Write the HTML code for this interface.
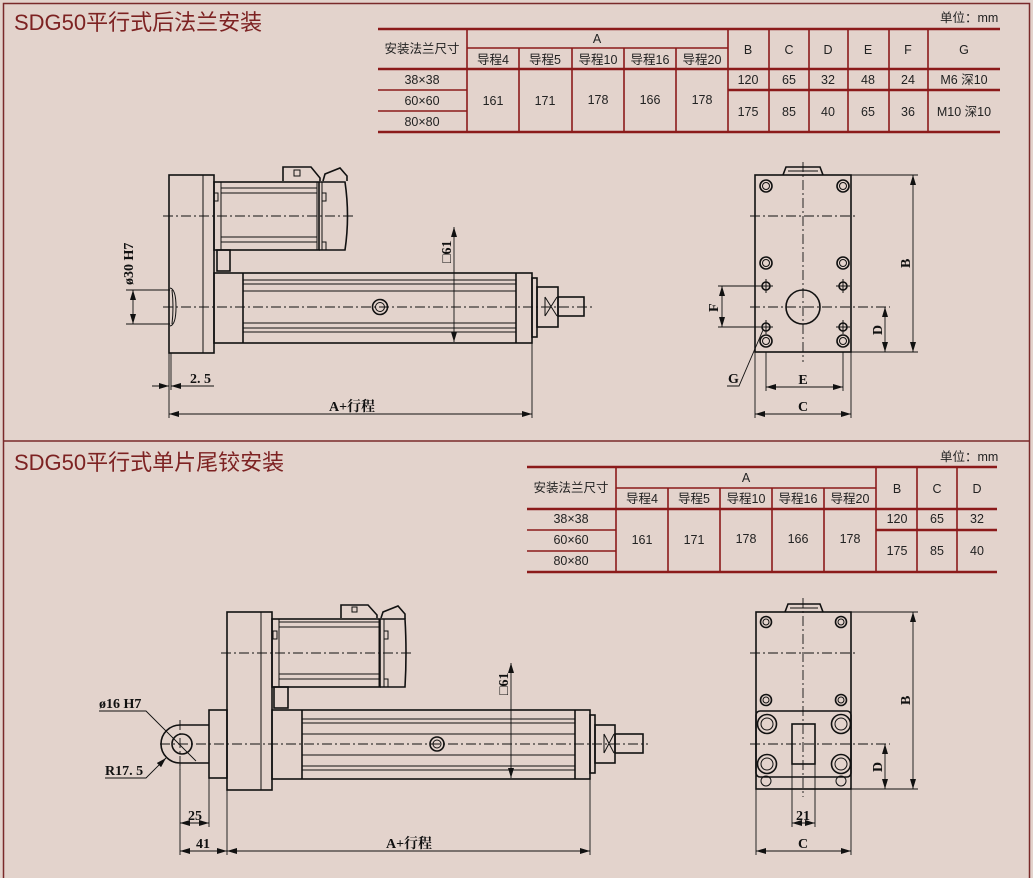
<!DOCTYPE html>
<html><head><meta charset="utf-8"><style>
html,body{margin:0;padding:0;background:#e3d3cc;}
svg{display:block;}
.t{font-family:"Liberation Sans","Noto Sans CJK SC",sans-serif;fill:#222;font-size:12.5px;}
.ttl{font-family:"Liberation Sans","Noto Sans CJK SC",sans-serif;fill:#7d2222;font-size:22px;}
.d{font-family:"Liberation Serif","Noto Serif CJK SC",serif;font-weight:bold;fill:#111;font-size:14px;}
.k{stroke:#111;fill:none;stroke-width:1.6;}
.th{stroke:#111;fill:none;stroke-width:1;}
.c{stroke:#111;fill:none;stroke-width:0.9;stroke-dasharray:10 3 2 3;}
.dm{stroke:#111;fill:none;stroke-width:0.9;}
.r{stroke:#8b1a1a;stroke-width:2.5;}
.r1{stroke:#8b1a1a;stroke-width:1.6;}
</style></head><body>
<svg width="1033" height="878" viewBox="0 0 1033 878" xmlns="http://www.w3.org/2000/svg">
<defs>
<marker id="a" viewBox="0 0 10 6" refX="10" refY="3" markerWidth="10" markerHeight="6" orient="auto-start-reverse" markerUnits="userSpaceOnUse"><path d="M0,0 L10,3 L0,6 z" fill="#111"/></marker>
</defs>
<rect x="3.5" y="3.5" width="1026" height="880" fill="none" stroke="#7a2a2a" stroke-width="1.5"/>
<line x1="3" y1="441" x2="1030" y2="441" stroke="#7a2a2a" stroke-width="1.5"/>
<text class="ttl" x="14" y="30">SDG50平行式后法兰安装</text>
<text class="ttl" x="14" y="470">SDG50平行式单片尾铰安装</text>

<!-- TOP TABLE -->
<text class="t" x="940" y="22">单位：mm</text>
<g>
<line class="r" x1="378" y1="29" x2="1000" y2="29"/>
<line class="r1" x1="467" y1="48" x2="728" y2="48"/>
<line class="r" x1="378" y1="69" x2="1000" y2="69"/>
<line class="r1" x1="378" y1="90" x2="467" y2="90"/>
<line class="r" x1="728" y1="90" x2="1000" y2="90"/>
<line class="r1" x1="378" y1="111" x2="467" y2="111"/>
<line class="r" x1="378" y1="132" x2="1000" y2="132"/>
<g class="r1"><line x1="467" y1="29" x2="467" y2="132"/><line x1="519" y1="48" x2="519" y2="132"/><line x1="572" y1="48" x2="572" y2="132"/><line x1="624" y1="48" x2="624" y2="132"/><line x1="676" y1="48" x2="676" y2="132"/><line x1="728" y1="29" x2="728" y2="132"/><line x1="769" y1="29" x2="769" y2="132"/><line x1="809" y1="29" x2="809" y2="132"/><line x1="848" y1="29" x2="848" y2="132"/><line x1="889" y1="29" x2="889" y2="132"/><line x1="928" y1="29" x2="928" y2="132"/></g>
<g class="t" text-anchor="middle">
<text x="422" y="53">安装法兰尺寸</text><text x="597" y="43">A</text>
<text x="493" y="64">导程4</text><text x="545" y="64">导程5</text><text x="598" y="64">导程10</text><text x="650" y="64">导程16</text><text x="702" y="64">导程20</text>
<text x="748" y="54">B</text><text x="789" y="54">C</text><text x="828" y="54">D</text><text x="868" y="54">E</text><text x="908" y="54">F</text><text x="964" y="54">G</text>
<text x="422" y="84">38×38</text><text x="422" y="105">60×60</text><text x="422" y="126">80×80</text>
<text x="493" y="105">161</text><text x="545" y="105">171</text><text x="598" y="104">178</text><text x="650" y="104">166</text><text x="702" y="104">178</text>
<text x="748" y="84">120</text><text x="789" y="84">65</text><text x="828" y="84">32</text><text x="868" y="84">48</text><text x="908" y="84">24</text><text x="964" y="84">M6 深10</text>
<text x="748" y="116">175</text><text x="789" y="116">85</text><text x="828" y="116">40</text><text x="868" y="116">65</text><text x="908" y="116">36</text><text x="964" y="116">M10 深10</text>
</g></g>

<!-- BOTTOM TABLE -->
<text class="t" x="940" y="461">单位：mm</text>
<g>
<line class="r" x1="527" y1="467" x2="997" y2="467"/>
<line class="r1" x1="616" y1="488" x2="876" y2="488"/>
<line class="r" x1="527" y1="509" x2="997" y2="509"/>
<line class="r1" x1="527" y1="530" x2="616" y2="530"/>
<line class="r" x1="876" y1="530" x2="997" y2="530"/>
<line class="r1" x1="527" y1="551" x2="616" y2="551"/>
<line class="r" x1="527" y1="572" x2="997" y2="572"/>
<g class="r1"><line x1="616" y1="467" x2="616" y2="572"/><line x1="668" y1="488" x2="668" y2="572"/><line x1="720" y1="488" x2="720" y2="572"/><line x1="772" y1="488" x2="772" y2="572"/><line x1="824" y1="488" x2="824" y2="572"/><line x1="876" y1="467" x2="876" y2="572"/><line x1="917" y1="467" x2="917" y2="572"/><line x1="957" y1="467" x2="957" y2="572"/></g>
<g class="t" text-anchor="middle">
<text x="571" y="492">安装法兰尺寸</text><text x="746" y="482">A</text>
<text x="642" y="503">导程4</text><text x="694" y="503">导程5</text><text x="746" y="503">导程10</text><text x="798" y="503">导程16</text><text x="850" y="503">导程20</text>
<text x="897" y="493">B</text><text x="937" y="493">C</text><text x="977" y="493">D</text>
<text x="571" y="523">38×38</text><text x="571" y="544">60×60</text><text x="571" y="565">80×80</text>
<text x="642" y="544">161</text><text x="694" y="544">171</text><text x="746" y="543">178</text><text x="798" y="543">166</text><text x="850" y="543">178</text>
<text x="897" y="523">120</text><text x="937" y="523">65</text><text x="977" y="523">32</text>
<text x="897" y="555">175</text><text x="937" y="555">85</text><text x="977" y="555">40</text>
</g></g>

<!-- TOP SIDE VIEW -->
<g>
<rect class="k" x="169" y="175" width="45" height="178"/>
<line class="th" x1="203" y1="175" x2="203" y2="353"/>
<rect class="k" x="214" y="182" width="105" height="68"/>
<path class="k" d="M319,182 L345,182 Q350,216 345,250 L319,250"/>
<line class="th" x1="221" y1="182" x2="221" y2="250"/>
<line class="th" x1="317" y1="182" x2="317" y2="250"/><line class="th" x1="322" y1="182" x2="322" y2="250"/>
<line class="th" x1="221" y1="188" x2="317" y2="188"/><line class="th" x1="221" y1="193" x2="317" y2="193"/>
<line class="th" x1="221" y1="237" x2="317" y2="237"/><line class="th" x1="221" y1="242" x2="317" y2="242"/>
<rect class="th" x="214" y="193" width="4" height="8"/><rect class="th" x="322" y="193" width="4" height="8"/><rect class="th" x="322" y="242" width="4" height="8"/>
<path class="k" d="M283,181 L283,167 L311,167 L320,178 L320,181"/><rect class="th" x="294" y="170" width="6" height="6"/>
<path class="k" d="M323,181 L325,174 L340,168 L347,176 L347,181"/>
<rect class="k" x="217" y="250" width="13" height="21"/>
<line class="c" x1="163" y1="216" x2="353" y2="216"/>
<rect class="k" x="214" y="273" width="318" height="70"/>
<line class="k" x1="243" y1="273" x2="243" y2="343"/><line class="k" x1="516" y1="273" x2="516" y2="343"/>
<g class="th"><line x1="243" y1="280" x2="516" y2="280"/><line x1="243" y1="284" x2="516" y2="284"/><line x1="243" y1="291" x2="516" y2="291"/><line x1="243" y1="323" x2="516" y2="323"/><line x1="243" y1="328" x2="516" y2="328"/><line x1="243" y1="332" x2="516" y2="332"/></g>
<rect class="k" x="532" y="278" width="5" height="59"/>
<rect class="k" x="537" y="287" width="21" height="40"/>
<path class="th" d="M545,297 L557,316 M557,297 L545,316 M545,297 V316"/>
<rect class="k" x="558" y="297" width="26" height="19"/>
<line class="c" x1="163" y1="307" x2="592" y2="307"/>
<circle class="k" cx="380" cy="307" r="7.5"/><circle class="th" cx="380" cy="307" r="4.5"/>
<path class="th" d="M170,288 Q176,289 176,307 Q176,325 170,326"/><path class="th" d="M172,290 Q174,307 172,324"/>
<line class="dm" x1="454" y1="227" x2="454" y2="342" marker-start="url(#a)" marker-end="url(#a)"/>
<text class="d" transform="translate(451,263) rotate(-90)">□61</text>
<line class="dm" x1="126" y1="290" x2="170" y2="290"/><line class="dm" x1="126" y1="324" x2="170" y2="324"/>
<line class="dm" x1="133" y1="290" x2="133" y2="324" marker-start="url(#a)" marker-end="url(#a)"/>
<text class="d" transform="translate(133,285) rotate(-90)">ø30 H7</text>
<line class="dm" x1="169" y1="353" x2="169" y2="418"/><line class="dm" x1="171" y1="353" x2="171" y2="390"/><line class="dm" x1="532" y1="343" x2="532" y2="418"/>
<line class="dm" x1="152" y1="386" x2="169" y2="386" marker-end="url(#a)"/><line class="dm" x1="171" y1="386" x2="214" y2="386" marker-start="url(#a)"/>
<text class="d" x="190" y="383">2. 5</text>
<line class="dm" x1="169" y1="414" x2="532" y2="414" marker-start="url(#a)" marker-end="url(#a)"/>
<text class="d" x="352" y="411" text-anchor="middle">A+行程</text>
</g>

<!-- TOP RIGHT VIEW -->
<g>
<rect class="k" x="755" y="175" width="96" height="177"/>
<path class="k" d="M783,175 L786,167 L820,167 L823,175"/><line class="th" x1="788" y1="171" x2="818" y2="171"/>
<line class="c" x1="803" y1="162" x2="803" y2="362"/>
<line class="c" x1="750" y1="216" x2="858" y2="216"/>
<line class="c" x1="750" y1="307" x2="890" y2="307"/>
<g class="k"><circle cx="766" cy="186" r="6"/><circle cx="843" cy="186" r="6"/><circle cx="766" cy="263" r="6"/><circle cx="843" cy="263" r="6"/><circle cx="766" cy="341" r="6"/><circle cx="843" cy="341" r="6"/></g>
<g class="th"><circle cx="766" cy="186" r="3.5"/><circle cx="843" cy="186" r="3.5"/><circle cx="766" cy="263" r="3.5"/><circle cx="843" cy="263" r="3.5"/><circle cx="766" cy="341" r="3.5"/><circle cx="843" cy="341" r="3.5"/></g>
<g class="k"><circle cx="766" cy="286" r="4"/><circle cx="843" cy="286" r="4"/><circle cx="766" cy="327" r="4"/><circle cx="843" cy="327" r="4"/></g>
<g class="th"><path d="M759,286h14M766,279v14M836,286h14M843,279v14M759,327h14M766,320v14M836,327h14M843,320v14"/></g>
<circle class="k" cx="803" cy="307" r="17"/>
<line class="dm" x1="851" y1="175" x2="918" y2="175"/><line class="dm" x1="851" y1="352" x2="918" y2="352"/>
<line class="dm" x1="913" y1="175" x2="913" y2="352" marker-start="url(#a)" marker-end="url(#a)"/>
<text class="d" transform="translate(910,268) rotate(-90)">B</text>
<line class="dm" x1="885" y1="307" x2="885" y2="352" marker-start="url(#a)" marker-end="url(#a)"/>
<text class="d" transform="translate(882,335) rotate(-90)">D</text>
<line class="dm" x1="718" y1="286" x2="766" y2="286"/><line class="dm" x1="718" y1="327" x2="766" y2="327"/>
<line class="dm" x1="722" y1="286" x2="722" y2="327" marker-start="url(#a)" marker-end="url(#a)"/>
<text class="d" transform="translate(718,312) rotate(-90)">F</text>
<line class="dm" x1="766" y1="352" x2="766" y2="391"/><line class="dm" x1="843" y1="352" x2="843" y2="391"/>
<line class="dm" x1="755" y1="352" x2="755" y2="418"/><line class="dm" x1="851" y1="352" x2="851" y2="418"/>
<line class="dm" x1="766" y1="387" x2="843" y2="387" marker-start="url(#a)" marker-end="url(#a)"/>
<text class="d" x="803" y="384" text-anchor="middle">E</text>
<line class="dm" x1="755" y1="414" x2="851" y2="414" marker-start="url(#a)" marker-end="url(#a)"/>
<text class="d" x="803" y="411" text-anchor="middle">C</text>
<path class="dm" d="M763,330 L739,386 L727,386"/>
<text class="d" x="728" y="383">G</text>
</g>

<!-- BOTTOM SIDE VIEW -->
<g>
<rect class="k" x="227" y="612" width="45" height="178"/>
<line class="th" x1="261" y1="612" x2="261" y2="790"/>
<rect class="k" x="272" y="619" width="108" height="68"/>
<path class="k" d="M380,619 L405,619 Q407,653 405,687 L380,687"/>
<line class="th" x1="279" y1="619" x2="279" y2="687"/>
<line class="th" x1="379" y1="619" x2="379" y2="687"/><line class="th" x1="384" y1="619" x2="384" y2="687"/>
<line class="th" x1="279" y1="622" x2="379" y2="622"/><line class="th" x1="279" y1="627" x2="379" y2="627"/>
<line class="th" x1="279" y1="674" x2="379" y2="674"/><line class="th" x1="279" y1="679" x2="379" y2="679"/>
<rect class="th" x="273" y="631" width="4" height="8"/><rect class="th" x="384" y="631" width="4" height="8"/><rect class="th" x="384" y="679" width="4" height="8"/>
<path class="k" d="M341,618 L341,605 L368,605 L377,615 L377,618"/><rect class="th" x="352" y="607" width="5" height="5"/>
<path class="k" d="M381,618 L383,612 L398,606 L405,614 L405,619"/>
<rect class="k" x="274" y="687" width="14" height="21"/>
<line class="c" x1="221" y1="653" x2="411" y2="653"/>
<rect class="k" x="272" y="710" width="318" height="69"/>
<line class="k" x1="302" y1="710" x2="302" y2="779"/><line class="k" x1="575" y1="710" x2="575" y2="779"/>
<g class="th"><line x1="302" y1="719" x2="575" y2="719"/><line x1="302" y1="723" x2="575" y2="723"/><line x1="302" y1="734" x2="575" y2="734"/><line x1="302" y1="755" x2="575" y2="755"/><line x1="302" y1="766" x2="575" y2="766"/><line x1="302" y1="770" x2="575" y2="770"/></g>
<rect class="k" x="590" y="715" width="5" height="58"/>
<rect class="k" x="595" y="725" width="20" height="38"/>
<path class="th" d="M604,734 L614,753 M614,734 L604,753 M604,734 V753"/>
<rect class="k" x="615" y="734" width="28" height="19"/>
<rect class="k" x="209" y="710" width="18" height="68"/>
<path class="k" d="M209,725 L180,725 A19,19 0 0 0 180,763 L209,763"/>
<circle class="k" cx="182" cy="744" r="10"/>
<line class="c" x1="160" y1="744" x2="648" y2="744"/>
<line class="c" x1="180" y1="720" x2="180" y2="770"/>
<circle class="k" cx="437" cy="744" r="7"/><circle class="th" cx="437" cy="744" r="4"/>
<line class="dm" x1="511" y1="663" x2="511" y2="778" marker-start="url(#a)" marker-end="url(#a)"/>
<text class="d" transform="translate(508,695) rotate(-90)">□61</text>
<text class="d" x="99" y="708">ø16 H7</text>
<path class="dm" d="M99,711 L146,711 L196,761"/>
<text class="d" x="105" y="775">R17. 5</text>
<path class="dm" d="M105,778 L146,778 L166,758" marker-end="url(#a)"/>
<line class="dm" x1="180" y1="764" x2="180" y2="855"/><line class="dm" x1="209" y1="778" x2="209" y2="827"/>
<line class="dm" x1="227" y1="790" x2="227" y2="855"/><line class="dm" x1="590" y1="779" x2="590" y2="855"/>
<line class="dm" x1="180" y1="823" x2="209" y2="823" marker-start="url(#a)" marker-end="url(#a)"/>
<text class="d" x="195" y="820" text-anchor="middle">25</text>
<line class="dm" x1="180" y1="851" x2="227" y2="851" marker-start="url(#a)" marker-end="url(#a)"/>
<text class="d" x="203" y="848" text-anchor="middle">41</text>
<line class="dm" x1="227" y1="851" x2="590" y2="851" marker-start="url(#a)" marker-end="url(#a)"/>
<text class="d" x="409" y="848" text-anchor="middle">A+行程</text>
</g>

<!-- BOTTOM RIGHT VIEW -->
<g>
<rect class="k" x="756" y="612" width="95" height="177"/>
<path class="k" d="M785,612 L788,604 L820,604 L823,612"/><line class="th" x1="790" y1="608" x2="818" y2="608"/>
<line class="c" x1="803" y1="598" x2="803" y2="797"/>
<line class="c" x1="750" y1="653" x2="858" y2="653"/>
<line class="c" x1="750" y1="744" x2="890" y2="744"/>
<g class="k"><circle cx="766" cy="622" r="5.5"/><circle cx="841" cy="622" r="5.5"/><circle cx="766" cy="700" r="5.5"/><circle cx="841" cy="700" r="5.5"/></g>
<g class="th"><circle cx="766" cy="622" r="3"/><circle cx="841" cy="622" r="3"/><circle cx="766" cy="700" r="3"/><circle cx="841" cy="700" r="3"/><circle cx="766" cy="781" r="5"/><circle cx="841" cy="781" r="5"/></g>
<rect class="k" x="756" y="711" width="95" height="66" rx="4"/>
<g class="k"><circle cx="767" cy="724" r="9.5"/><circle cx="841" cy="724" r="9.5"/><circle cx="767" cy="764" r="9.5"/><circle cx="841" cy="764" r="9.5"/></g>
<g class="th"><circle cx="767" cy="724" r="6"/><circle cx="841" cy="724" r="6"/><circle cx="767" cy="764" r="6"/><circle cx="841" cy="764" r="6"/></g>
<rect class="k" x="792" y="724" width="23" height="40"/>
<line class="dm" x1="851" y1="612" x2="918" y2="612"/><line class="dm" x1="851" y1="789" x2="918" y2="789"/>
<line class="dm" x1="913" y1="612" x2="913" y2="789" marker-start="url(#a)" marker-end="url(#a)"/>
<text class="d" transform="translate(910,705) rotate(-90)">B</text>
<line class="dm" x1="885" y1="744" x2="885" y2="789" marker-start="url(#a)" marker-end="url(#a)"/>
<text class="d" transform="translate(882,772) rotate(-90)">D</text>
<line class="dm" x1="792" y1="764" x2="792" y2="827"/><line class="dm" x1="815" y1="764" x2="815" y2="827"/>
<line class="dm" x1="792" y1="823" x2="815" y2="823" marker-start="url(#a)" marker-end="url(#a)"/>
<text class="d" x="803" y="820" text-anchor="middle">21</text>
<line class="dm" x1="756" y1="789" x2="756" y2="855"/><line class="dm" x1="851" y1="789" x2="851" y2="855"/>
<line class="dm" x1="756" y1="851" x2="851" y2="851" marker-start="url(#a)" marker-end="url(#a)"/>
<text class="d" x="803" y="848" text-anchor="middle">C</text>
</g>
</svg>
</body></html>
